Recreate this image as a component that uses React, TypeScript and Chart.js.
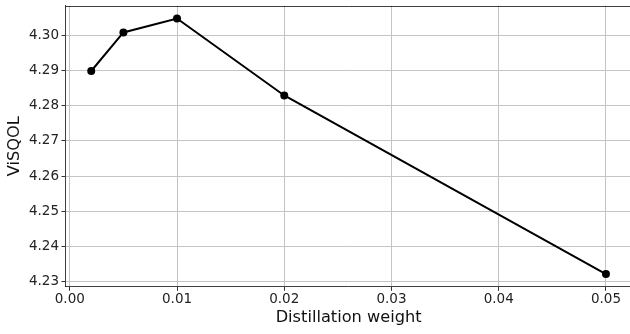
import React, { useEffect, useRef } from "react";
import { Chart, registerables } from "chart.js";

Chart.register(...registerables);

const weights = [0.002, 0.005, 0.01, 0.02, 0.05];
const visqol = [4.29, 4.301, 4.305, 4.283, 4.232];
const xTicks = [0.0, 0.01, 0.02, 0.03, 0.04, 0.05];
const yTicks = [4.23, 4.24, 4.25, 4.26, 4.27, 4.28, 4.29, 4.3];

const FONT = "'DejaVu Sans', sans-serif";

const framePlugin = {
  id: "frame",
  afterDraw(chart: any) {
    const { ctx, chartArea } = chart;
    ctx.save();
    ctx.strokeStyle = "rgba(0,0,0,0.75)";
    ctx.lineWidth = 1;
    ctx.beginPath();
    ctx.moveTo(chartArea.left, Math.round(chartArea.top) + 0.5);
    ctx.lineTo(chartArea.right, Math.round(chartArea.top) + 0.5);
    ctx.moveTo(Math.round(chartArea.right) + 0.5, chartArea.top);
    ctx.lineTo(Math.round(chartArea.right) + 0.5, chartArea.bottom);
    ctx.stroke();
    ctx.restore();
  },
};

const zeroPad = (s: any) => {
  s.paddingTop = 0;
  s.paddingBottom = 0;
  s.paddingLeft = 0;
  s.paddingRight = 0;
};

export default function App() {
  const ref = useRef<HTMLCanvasElement>(null);
  useEffect(() => {
    if (!ref.current) return;
    const chart = new Chart(ref.current, {
      type: "line",
      data: {
        datasets: [
          {
            data: weights.map((w, i) => ({ x: w, y: visqol[i] })),
            borderColor: "#000",
            backgroundColor: "#000",
            borderWidth: 2,
            pointRadius: 4,
            pointBackgroundColor: "#000",
            pointBorderWidth: 0,
            tension: 0,
          },
        ],
      },
      options: {
        animation: false,
        responsive: false,
        plugins: { legend: { display: false }, tooltip: { enabled: false } },
        layout: { padding: { top: 5.7, right: 18.3, left: 0, bottom: 0 } },
        scales: {
          x: {
            type: "linear",
            min: -0.0004,
            max: 0.0524,
            afterBuildTicks: (s: any) => {
              s.ticks = xTicks.map((v) => ({ value: v }));
            },
            afterFit: (s: any) => {
              s.height = 47.2;
              zeroPad(s);
            },
            ticks: {
              callback: (v: any) => Number(v).toFixed(2),
              font: { family: FONT, size: 13.5 },
              color: "#222",
              padding: 1,
              maxRotation: 0,
            },
            grid: {
              color: "#c4c4c4",
              lineWidth: 1,
              tickLength: 4,
              tickColor: "#333",
            },
            border: { color: "rgba(0,0,0,0.75)", width: 1 },
            title: {
              display: true,
              text: "Distillation weight",
              font: { family: FONT, size: 16.2 },
              color: "#111",
              padding: { top: 0, bottom: 6.3 },
            },
          },
          y: {
            type: "linear",
            min: 4.22835,
            max: 4.30865,
            afterBuildTicks: (s: any) => {
              s.ticks = yTicks.map((v) => ({ value: v }));
            },
            afterFit: (s: any) => {
              s.width = 65.5;
              zeroPad(s);
            },
            ticks: {
              callback: (v: any) => Number(v).toFixed(2),
              font: { family: FONT, size: 13.5 },
              color: "#222",
              padding: 2.5,
            },
            grid: {
              color: "#c4c4c4",
              lineWidth: 1,
              tickLength: 4,
              tickColor: "#333",
            },
            border: { color: "rgba(0,0,0,0.75)", width: 1 },
            title: {
              display: true,
              text: "ViSQOL",
              font: { family: FONT, size: 16.2 },
              color: "#111",
              padding: { top: 4.6, bottom: 0 },
            },
          },
        },
      },
      plugins: [framePlugin],
    } as any);
    return () => chart.destroy();
  }, []);
  return (
    <div
      style={{
        position: "absolute",
        left: 0,
        top: 0,
        width: 630,
        height: 334,
        overflow: "hidden",
        background: "#fff",
      }}
    >
      <canvas ref={ref} width={650} height={334} style={{ width: 650, height: 334, display: "block" }} />
    </div>
  );
}
